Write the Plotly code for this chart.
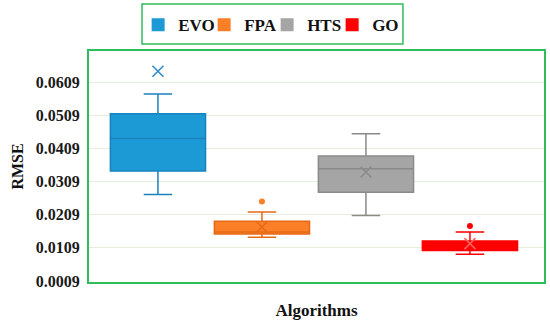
import plotly.graph_objects as go

categories = ["EVO", "FPA", "HTS", "GO"]
q1_vals = [0.0341, 0.0151, 0.0277, 0.0101]
median_vals = [0.0439, 0.0157, 0.0348, 0.0112]
q3_vals = [0.0514, 0.0189, 0.0386, 0.0130]
lower_vals = [0.0270, 0.0141, 0.0207, 0.0090]
upper_vals = [0.0573, 0.0217, 0.0453, 0.0157]
mean_vals = [0.0642, 0.0172, 0.0338, 0.0122]
outlier_vals = [None, 0.0249, None, 0.0175]
tick_vals = [0.0009, 0.0109, 0.0209, 0.0309, 0.0409, 0.0509, 0.0609]
tick_text = ["0.0009", "0.0109", "0.0209", "0.0309", "0.0409", "0.0509", "0.0609"]

fills = ["#1c9ad6", "#fb7f26", "#a5a5a5", "#ff0000"]
edges = ["#1a82bd", "#e66a16", "#8a8a8a", "#ff0000"]
mean_cols = ["#2e8ccb", "#e66a16", "#8a8a8a", "#ff6060"]
legend_widths = [21, 18, 20, 30]

SERIF = "Liberation Serif, DejaVu Serif, serif"

fig = go.Figure()
for i, c in enumerate(categories):
    fig.add_trace(go.Box(
        x=[i], q1=[q1_vals[i]], median=[median_vals[i]], q3=[q3_vals[i]],
        lowerfence=[lower_vals[i]], upperfence=[upper_vals[i]],
        width=0.915, whiskerwidth=0.3,
        fillcolor=fills[i], line=dict(color=edges[i], width=1.5),
        showlegend=False, hoverinfo="skip", name=c,
    ))
    fig.add_trace(go.Scatter(
        x=[i], y=[mean_vals[i]], mode="markers",
        marker=dict(symbol="x-thin-open", size=11, color=mean_cols[i],
                    line=dict(color=mean_cols[i], width=1.6)),
        showlegend=False, hoverinfo="skip",
    ))
    if outlier_vals[i] is not None:
        fig.add_trace(go.Scatter(
            x=[i], y=[outlier_vals[i]], mode="markers",
            marker=dict(symbol="circle", size=6, color=fills[i]),
            showlegend=False, hoverinfo="skip",
        ))
    fig.add_trace(go.Scatter(
        x=[None], y=[None], mode="markers", name=c, legendwidth=legend_widths[i],
        marker=dict(symbol="square", size=13, color=fills[i]),
    ))

green = "#2dbd5a"
fig.add_shape(type="rect", xref="paper", yref="paper",
              x0=0.1165, x1=0.690, y0=1.0303, y1=1.2035,
              line=dict(color=green, width=1.5), fillcolor="rgba(0,0,0,0)")

fig.update_layout(
    width=550, height=328,
    margin=dict(l=89, r=6, t=51, b=46, autoexpand=False),
    paper_bgcolor="white", plot_bgcolor="white",
    font=dict(family=SERIF, size=14, color="#1a1a1a", weight="bold"),
    legend=dict(
        orientation="h", x=0.108, xanchor="left", y=1.112, yanchor="middle",
        borderwidth=0, bgcolor="rgba(0,0,0,0)",
        font=dict(family=SERIF, size=17, color="#111", weight="bold"),
        itemwidth=30, tracegroupgap=0,
    ),
    xaxis=dict(
        range=[-0.663, 3.712], showticklabels=False, showgrid=False, zeroline=False,
        showline=True, mirror=True, linecolor=green, linewidth=2, automargin=False,
        title=dict(text="Algorithms", standoff=21,
                   font=dict(family=SERIF, size=17, color="#111", weight="bold")),
    ),
    yaxis=dict(
        range=[0.0006, 0.0703], tickvals=tick_vals, ticktext=tick_text,
        showgrid=True, gridcolor="#e2f0d9", gridwidth=1, zeroline=False,
        showline=True, mirror=True, linecolor=green, linewidth=2, automargin=False,
        ticks="", ticklabelstandoff=4,
        tickfont=dict(family=SERIF, size=16, color="#1a1a1a", weight="bold"),
        title=dict(text="RMSE", standoff=8,
                   font=dict(family=SERIF, size=16, color="#111", weight="bold")),
    ),
)

fig.write_html("out.html", config={"displayModeBar": False},
               post_script="document.body.style.margin='0';")
